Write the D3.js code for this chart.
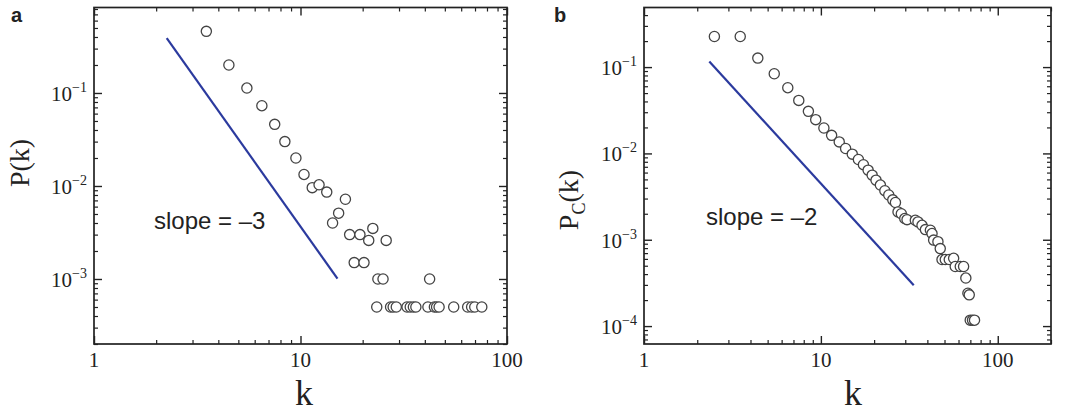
<!DOCTYPE html>
<html>
<head>
<meta charset="utf-8">
<script src="https://cdn.jsdelivr.net/npm/d3@7"></script>
<style>
  body { margin: 0; background: #fff; }
</style>
</head>
<body>
<svg id="chart" width="1072" height="412"></svg>
<script>
// panel a: degree distribution P(k)
const kA = [3.5, 4.5, 5.5, 6.5, 7.5, 8.4, 9.5, 10.4, 11.4, 12.3, 13.4, 14.3, 15.3, 16.5, 17.3, 18.2, 19.4, 20.3, 21.4, 22.4,
  23.4, 23.7, 25.1, 26.0, 27.3, 28.1, 29.1, 32.8, 34.0, 35.2, 36.2, 41.4, 42.2, 44.5, 45.6, 46.9, 55.2, 64.5, 67.4, 69.8, 75.5]
const pA = [0.46, 0.20, 0.113, 0.073, 0.046, 0.030, 0.020, 0.0133, 0.0096, 0.0103, 0.0086, 0.0040, 0.0051, 0.0072, 0.0030, 0.0015, 0.0030, 0.0015, 0.0026, 0.0035,
  0.0005, 0.0010, 0.0010, 0.0026, 0.0005, 0.0005, 0.0005, 0.0005, 0.0005, 0.0005, 0.0005, 0.0005, 0.0010, 0.0005, 0.0005, 0.0005, 0.0005, 0.0005, 0.0005, 0.0005, 0.0005]
const slopeKA = [2.25, 15.1]
const slopePA = [0.388, 0.00101]

// panel b: cumulative distribution Pc(k)
const kB = [2.5, 3.5, 4.4, 5.45, 6.5, 7.5, 8.5, 9.35, 10.4, 11.5, 12.7, 13.8, 15.05, 16.3, 17.4, 18.5, 19.5, 20.5, 21.7, 23.0,
  24.2, 25.5, 26.4, 27.3, 28.5, 29.8, 30.7, 34.2, 35.4, 37.3, 39.0, 41.6, 42.5, 43.4, 45.9, 47.3, 48.4, 50.5, 53.2, 56.3,
  57.5, 61.4, 64.1, 66.0, 67.8, 69.0, 69.9, 72.0, 73.9]
const pB = [0.226, 0.226, 0.127, 0.0837, 0.0577, 0.0411, 0.0307, 0.0246, 0.0197, 0.0162, 0.0136, 0.0114, 0.0098, 0.0085, 0.0074, 0.0064, 0.0056, 0.0049, 0.0043, 0.0037,
  0.0033, 0.0029, 0.0027, 0.0021, 0.0020, 0.00176, 0.00171, 0.00168, 0.00161, 0.00147, 0.00131, 0.00129, 0.00118, 0.00099, 0.00095, 0.00079, 0.00059, 0.00059, 0.00059, 0.00061,
  0.00049, 0.00049, 0.00049, 0.00036, 0.00024, 0.00023, 0.000117, 0.000117, 0.000117]
const slopeKB = [2.34, 33.5]
const slopePB = [0.116, 0.000298]

const xTickLabels = ['1', '10', '100']

const serif = "'Liberation Serif', 'Times New Roman', serif"
const sans = "'Liberation Sans', Arial, sans-serif"

const svg = d3.select('#chart')

const panels = [
  {
    letter: 'a', k: kA, p: pA, lk: slopeKA, lp: slopePA,
    xDom: [1, 100], yDom: [2e-4, 0.83], yMajors: [1e-3, 1e-2, 1e-1],
    left: 94, top: 7.5, right: 507, bottom: 344,
    slope: 'slope = \u20133', slopeX: 154, slopeY: 229,
    letterX: 11, ylabX: 29, ylabY: 163, sub: null, kX: 304
  },
  {
    letter: 'b', k: kB, p: pB, lk: slopeKB, lp: slopePB,
    xDom: [1, 200], yDom: [6.2e-5, 0.49], yMajors: [1e-4, 1e-3, 1e-2, 1e-1],
    left: 644, top: 7.5, right: 1051, bottom: 344,
    slope: 'slope = \u20132', slopeX: 706, slopeY: 225,
    letterX: 554, ylabX: 578, ylabY: 200, sub: 'C', kX: 853
  }
]

function minorTicks(dom) {
  let out = []
  for (let d = Math.floor(Math.log10(dom[0])); d <= Math.ceil(Math.log10(dom[1])); d++) {
    for (let m = 2; m <= 9; m++) {
      let v = m * Math.pow(10, d)
      if (v >= dom[0] && v <= dom[1]) out.push(v)
    }
  }
  return out
}

panels.forEach(pn => {
  const w = pn.right - pn.left
  const h = pn.bottom - pn.top
  const x = d3.scaleLog().domain(pn.xDom).range([0, w])
  const y = d3.scaleLog().domain(pn.yDom).range([h, 0])
  const xMajors = [1, 10, 100]

  const g = svg.append('g').attr('transform', `translate(${pn.left},${pn.top})`)

  // ticks on all four sides, pointing inward
  const tickSets = [
    [d3.axisBottom, xMajors, minorTicks(pn.xDom), x, 'translate(0,' + h + ')'],
    [d3.axisTop, xMajors, minorTicks(pn.xDom), x, 'translate(0,0)'],
    [d3.axisLeft, pn.yMajors, minorTicks(pn.yDom), y, 'translate(0,0)'],
    [d3.axisRight, pn.yMajors, minorTicks(pn.yDom), y, 'translate(' + w + ',0)']
  ]
  tickSets.forEach(([axisFn, majors, minors, sc, tr]) => {
    g.append('g').attr('transform', tr)
      .call(axisFn(sc).tickValues(majors).tickSizeInner(-8).tickSizeOuter(0).tickFormat(''))
      .call(s => s.select('.domain').remove())
      .selectAll('line').attr('stroke', '#222').attr('stroke-width', 1.4)
    g.append('g').attr('transform', tr)
      .call(axisFn(sc).tickValues(minors).tickSizeInner(-4).tickSizeOuter(0).tickFormat(''))
      .call(s => s.select('.domain').remove())
      .selectAll('line').attr('stroke', '#222').attr('stroke-width', 1.2)
  })

  g.append('rect')
    .attr('width', w).attr('height', h)
    .attr('fill', 'none').attr('stroke', '#222').attr('stroke-width', 1.7)

  // x tick labels
  g.selectAll('.xlab').data(xMajors).join('text')
    .attr('x', d => x(d)).attr('y', h + 23)
    .attr('text-anchor', 'middle')
    .style('font-family', serif).style('font-size', '21px').attr('fill', '#222')
    .text((d, i) => xTickLabels[i])

  // y tick labels 10^-n
  const yl = g.selectAll('.ylab').data(pn.yMajors).join('text')
    .attr('x', -7).attr('y', d => y(d) + 8)
    .attr('text-anchor', 'end')
    .style('font-family', serif).attr('fill', '#222')
  yl.append('tspan').style('font-size', '21px').text('10')
  yl.append('tspan').attr('dy', -9).style('font-size', '14px')
    .text(d => '\u2212' + Math.round(-Math.log10(d)))

  // slope guide line
  g.append('path')
    .datum(pn.lk.map((k, i) => [k, pn.lp[i]]))
    .attr('d', d3.line().x(d => x(d[0])).y(d => y(d[1])))
    .attr('stroke', '#2b3a9e').attr('stroke-width', 2.2).attr('fill', 'none')

  // data points
  const pts = pn.k.map((k, i) => [k, pn.p[i]]).sort((a, b) => a[0] - b[0])
  g.selectAll('circle').data(pts).join('circle')
    .attr('cx', d => x(d[0])).attr('cy', d => y(d[1]))
    .attr('r', 5.1)
    .attr('fill', '#fff').attr('stroke', '#444').attr('stroke-width', 1.3)

  // slope text
  svg.append('text')
    .attr('x', pn.slopeX).attr('y', pn.slopeY)
    .style('font-family', sans).style('font-size', '24px').attr('fill', '#222')
    .text(pn.slope)

  // panel letter
  svg.append('text')
    .attr('x', pn.letterX).attr('y', 22)
    .style('font-family', sans).style('font-size', '20px').style('font-weight', 'bold').attr('fill', '#222')
    .text(pn.letter)

  // y axis title
  const yt = svg.append('text')
    .attr('transform', `translate(${pn.ylabX},${pn.ylabY}) rotate(-90)`)
    .attr('text-anchor', 'middle')
    .style('font-family', serif).style('font-size', '28px').attr('fill', '#222')
  yt.append('tspan').text('P')
  if (pn.sub) {
    yt.append('tspan').attr('dy', 7).style('font-size', '18px').text(pn.sub)
    yt.append('tspan').attr('dy', -7).text('(k)')
  } else {
    yt.append('tspan').text('(k)')
  }

  // x axis title
  svg.append('text')
    .attr('x', pn.kX).attr('y', 405)
    .attr('text-anchor', 'middle')
    .style('font-family', serif).style('font-size', '36px').attr('fill', '#222')
    .text('k')
})
</script>
</body>
</html>
